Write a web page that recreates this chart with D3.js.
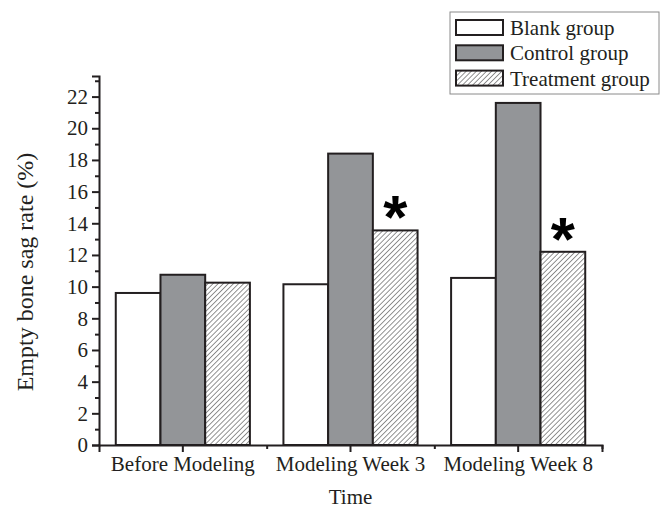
<!DOCTYPE html>
<html lang="en">
<head>
<meta charset="UTF-8">
<title>Empty bone sag rate</title>
<script src="https://d3js.org/d3.v7.min.js"></script>
<style>
  body { margin: 0; background: #fff; }
  text { font-family: "Liberation Serif", "Times New Roman", serif; fill: #231f20; }
</style>
</head>
<body>
<div id="chart"></div>
<script>
// data
const categories = ['Before Modeling', 'Modeling Week 3', 'Modeling Week 8'];
const seriesNames = ['Blank group', 'Control group', 'Treatment group'];
const blankValues = [9.6, 10.15, 10.55];
const controlValues = [10.75, 18.4, 21.6];
const treatmentValues = [10.25, 13.55, 12.2];
const significant = [false, true, true]; // asterisk over treatment bar
const yTicks = [0, 2, 4, 6, 8, 10, 12, 14, 16, 18, 20, 22];
const yMinorTicks = [1, 3, 5, 7, 9, 11, 13, 15, 17, 19, 21, 23];

const W = 663, H = 511;
const margin = { top: 76, right: 61, bottom: 66, left: 99 };
const ink = '#231f20';
const fills = ['#ffffff', '#939598', 'url(#hatch)'];
const fontSize = '21px';

const svg = d3.select('#chart').append('svg')
  .attr('width', W).attr('height', H);

// diagonal hatch
const pat = svg.append('defs').append('pattern')
  .attr('id', 'hatch')
  .attr('patternUnits', 'userSpaceOnUse')
  .attr('width', 3.6).attr('height', 3.6)
  .attr('patternTransform', 'rotate(45)');
pat.append('rect').attr('width', 3.6).attr('height', 3.6).attr('fill', '#fff');
pat.append('line').attr('x1', 0).attr('y1', 0).attr('x2', 0).attr('y2', 3.6)
  .attr('stroke', '#3a3a3a').attr('stroke-width', 1.1);

const x = d3.scaleBand()
  .domain(categories)
  .range([margin.left, W - margin.right])
  .paddingInner(0).paddingOuter(0);

const x1 = d3.scaleBand()
  .domain(seriesNames)
  .range([0, x.bandwidth()])
  .paddingInner(0).paddingOuter(0.375);

const y = d3.scaleLinear()
  .domain([0, 23.3])
  .range([H - margin.bottom, margin.top]);

const rows = categories.map((c, i) => ({
  cat: c,
  vals: [blankValues[i], controlValues[i], treatmentValues[i]],
  sig: significant[i]
}));

// bars
const groups = svg.append('g').selectAll('g')
  .data(rows).join('g')
  .attr('transform', d => `translate(${x(d.cat)},0)`);

groups.selectAll('rect')
  .data(d => d.vals.map((v, k) => ({ v, k })))
  .join('rect')
  .attr('x', d => x1(seriesNames[d.k]))
  .attr('y', d => y(d.v))
  .attr('width', x1.bandwidth())
  .attr('height', d => y(0) - y(d.v))
  .attr('fill', d => fills[d.k])
  .attr('stroke', ink)
  .attr('stroke-width', 2);

// asterisks
groups.filter(d => d.sig).append('text')
  .attr('x', x1(seriesNames[2]) + x1.bandwidth() / 2)
  .attr('y', d => y(d.vals[2]) + 8)
  .attr('text-anchor', 'middle')
  .style('font-family', '"Liberation Sans", Arial, sans-serif')
  .style('font-weight', 'bold')
  .style('font-size', '62px')
  .style('fill', '#000')
  .text('*');

// y axis
svg.append('g')
  .attr('transform', `translate(${margin.left},0)`)
  .call(d3.axisLeft(y).tickValues(yTicks).tickSize(7).tickPadding(4).tickFormat(d3.format('d')));
svg.append('g')
  .attr('transform', `translate(${margin.left},0)`)
  .call(d3.axisLeft(y).tickValues(yMinorTicks).tickSize(4).tickFormat(''))
  .select('.domain').remove();

// x axis
svg.append('g')
  .attr('transform', `translate(0,${H - margin.bottom})`)
  .call(d3.axisBottom(x).tickSize(7).tickPadding(4));
svg.append('g')
  .attr('transform', `translate(0,${H - margin.bottom})`)
  .call(d3.axisBottom(d3.scaleLinear().domain([0, 3]).range(x.range()))
    .tickValues([1, 2, 3]).tickSize(4).tickFormat(''))
  .select('.domain').remove();

svg.selectAll('.domain').attr('stroke', ink).attr('stroke-width', 2);
svg.selectAll('.tick line').attr('stroke', ink).attr('stroke-width', 2);
svg.selectAll('.tick text')
  .style('font-family', '"Liberation Serif", "Times New Roman", serif')
  .style('font-size', fontSize)
  .style('fill', ink);

// axis titles
svg.append('text')
  .attr('transform', 'translate(33,272) rotate(-90)')
  .attr('text-anchor', 'middle')
  .style('font-size', '24px')
  .text('Empty bone sag rate (%)');

svg.append('text')
  .attr('x', (margin.left + W - margin.right) / 2)
  .attr('y', 504)
  .attr('text-anchor', 'middle')
  .style('font-size', fontSize)
  .text('Time');

// legend
const lg = svg.append('g').attr('transform', 'translate(450,12)');
lg.append('rect')
  .attr('width', 209).attr('height', 82)
  .attr('fill', '#fff').attr('stroke', '#8a8a8a').attr('stroke-width', 1);
const items = lg.selectAll('g.item')
  .data(seriesNames).join('g')
  .attr('class', 'item')
  .attr('transform', (d, i) => `translate(6,${8 + i * 25.3})`);
items.append('rect')
  .attr('width', 47).attr('height', 15)
  .attr('fill', (d, i) => fills[i])
  .attr('stroke', ink).attr('stroke-width', 2);
items.append('text')
  .attr('x', 54).attr('y', 15)
  .style('font-size', fontSize)
  .text(d => d);
</script>
</body>
</html>
